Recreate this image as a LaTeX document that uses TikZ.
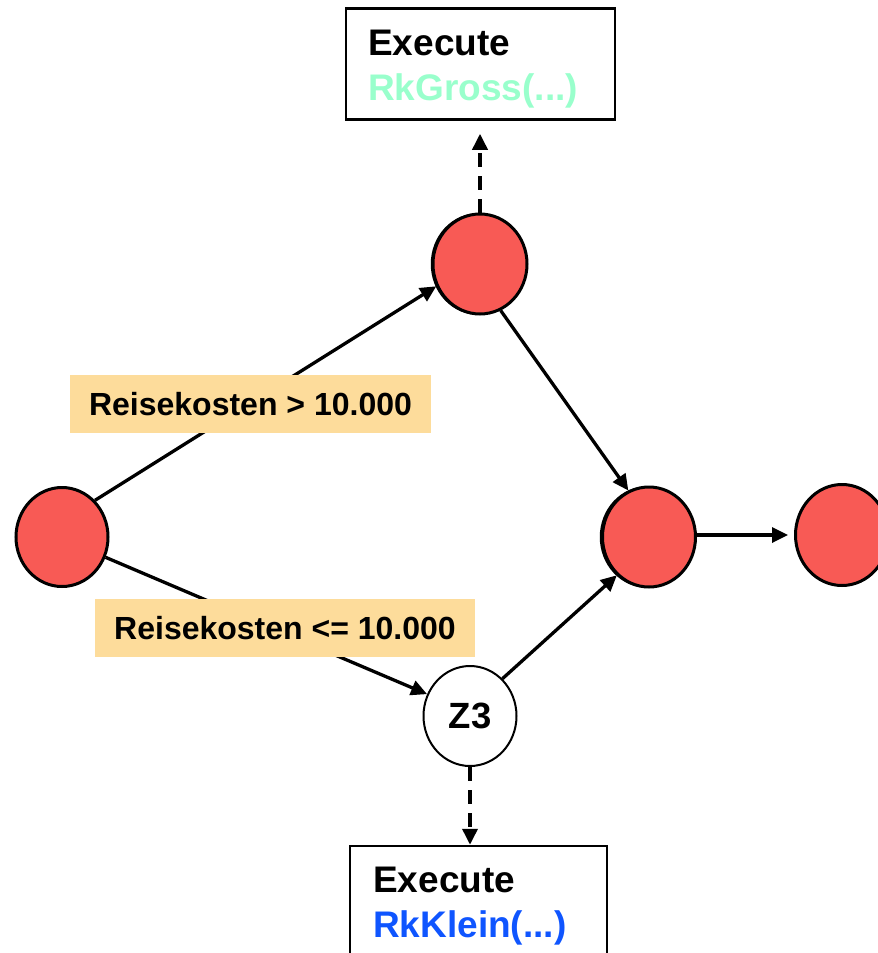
\documentclass[tikz,border=0pt]{standalone}
\usepackage{fontspec}
\setmainfont{Liberation Sans}
\usetikzlibrary{arrows.meta,shapes.geometric}
\definecolor{nodered}{RGB}{248,90,85}
\definecolor{labelfill}{RGB}{253,220,155}
\definecolor{mint}{RGB}{153,255,204}
\definecolor{kleinblue}{RGB}{15,85,255}
\tikzset{
  state/.style={ellipse, draw=black, line width=3pt, fill=nodered, minimum width=92pt, minimum height=99pt, inner sep=0pt},
  ghost/.style={ellipse, draw=black, line width=2.5pt, minimum width=92pt, minimum height=99pt, inner sep=0pt},
  zstate/.style={ellipse, draw=black, line width=2pt, fill=white, minimum width=93pt, minimum height=100pt, inner sep=0pt, font=\fontsize{36.5}{40}\selectfont\bfseries},
  flow/.style={line width=3.3pt, -{Triangle[length=16pt,width=15pt]}},
  dflow/.style={flow, line width=3.6pt, dash pattern=on 14pt off 9pt},
  actbox/.style={rectangle, draw=black, line width=2.5pt, fill=white, inner sep=0pt},
  acttext/.style={anchor=base west, inner sep=0pt, font=\fontsize{37}{42}\selectfont\bfseries},
  cond/.style={rectangle, fill=labelfill, inner sep=0pt, minimum height=58pt, font=\fontsize{32}{36}\selectfont\bfseries}
}
\begin{document}
\begin{tikzpicture}[x=1pt,y=-1pt]
\useasboundingbox (0,0) rectangle (878,953);
% states
\node[ghost] at (478,264) {};
\node[ghost] at (647,537) {};
\node[state] (L) at (62,537) {};
\node[state, minimum width=94pt, minimum height=100pt] (T) at (480,264) {};
\node[state, minimum width=93pt, minimum height=100pt] (M) at (649,537) {};
\node[state, minimum width=93pt, minimum height=101pt] (R) at (842,535) {};
\node[zstate] (Z) at (470,716) {Z3};
% action boxes
\node[actbox, minimum width=269pt, minimum height=111pt] (gross) at (480.5,64) {};
\node[acttext] (grossA) at (368,55) {Execute};
\node[acttext, text=mint] (grossB) at (368,100) {RkGross(...)};
\node[actbox, minimum width=257pt, minimum height=130pt] (klein) at (478.5,911) {};
\node[acttext] (kleinA) at (373,892) {Execute};
\node[acttext, text=kleinblue] (kleinB) at (373,937) {RkKlein(...)};
% connectors
\draw[flow] (L.48) -- (T.207);
\draw[flow] (L.-25) -- (Z.153);
\draw[flow] (T.-66) -- (M.114);
\draw[flow] (Z.49) -- (M.230);
\draw[flow, shorten >=6pt] (M.east |- R.west) -- (R.west);
\draw[dflow, shorten >=13pt] (T.north) -- (T.north |- gross.south);
\draw[dflow] (Z.south) -- (Z.south |- klein.north);
% condition labels
\node[cond, minimum width=361pt] (c1) at (250.5,404) {Reisekosten > 10.000};
\node[cond, minimum width=380pt] (c2) at (285,628) {Reisekosten <= 10.000};
\end{tikzpicture}
\end{document}
